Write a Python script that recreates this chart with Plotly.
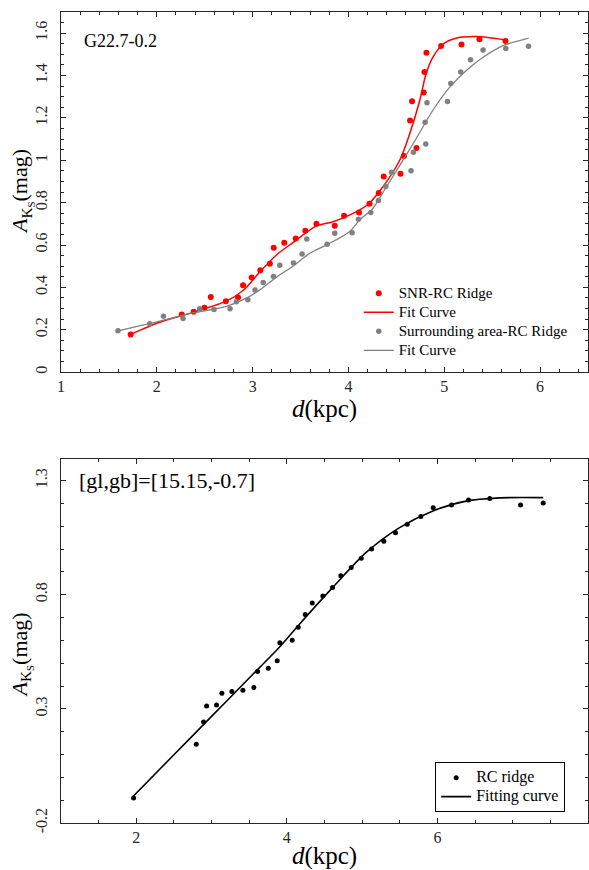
import plotly.graph_objects as go

# ---------------- Panel 1: G22.7-0.2 ----------------
snr_d = [1.727, 2.26, 2.385, 2.497, 2.563, 2.72, 2.848, 2.90, 2.99, 3.08, 3.18, 3.22,
         3.33, 3.45, 3.55, 3.666, 3.857, 3.954, 4.11, 4.22, 4.316, 4.368, 4.543, 4.58,
         4.643, 4.664, 4.71, 4.786, 4.793, 4.814, 4.967, 5.18, 5.367, 5.639]
snr_ak = [0.178, 0.272, 0.285, 0.304, 0.355, 0.335, 0.352, 0.410, 0.446, 0.481, 0.512, 0.587,
          0.611, 0.631, 0.667, 0.700, 0.691, 0.738, 0.754, 0.795, 0.846, 0.923, 0.936, 1.02,
          1.188, 1.279, 1.058, 1.32, 1.417, 1.508, 1.54, 1.547, 1.571, 1.563]

snr_fit_d = [1.727, 2.03, 2.378, 2.726, 2.90, 3.074, 3.248, 3.42, 3.666, 3.84, 4.01,
             4.2, 4.36, 4.535, 4.64, 4.744, 4.81, 4.88, 4.99, 5.13, 5.34, 5.64]
snr_fit_ak = [0.178, 0.235, 0.282, 0.335, 0.385, 0.472, 0.553, 0.611, 0.690, 0.71, 0.741,
              0.79, 0.875, 1.0, 1.126, 1.282, 1.408, 1.486, 1.549, 1.577, 1.584, 1.568]

sur_d = [1.595, 1.926, 2.069, 2.274, 2.448, 2.597, 2.764, 2.83, 2.95, 3.025, 3.11, 3.217,
         3.283, 3.426, 3.516, 3.565, 3.777, 3.857, 4.038, 4.104, 4.233, 4.313, 4.39, 4.45,
         4.653, 4.678, 4.80, 4.807, 4.82, 5.033, 5.068, 5.172, 5.274, 5.405, 5.642, 5.879]
sur_ak = [0.195, 0.228, 0.264, 0.253, 0.299, 0.296, 0.299, 0.332, 0.341, 0.388, 0.423, 0.451,
          0.504, 0.515, 0.558, 0.628, 0.603, 0.656, 0.658, 0.722, 0.754, 0.81, 0.876, 0.944,
          0.95, 1.038, 1.179, 1.077, 1.271, 1.278, 1.362, 1.417, 1.475, 1.521, 1.528, 1.538]

sur_fit_d = [1.595, 2.03, 2.378, 2.726, 2.935, 3.074, 3.248, 3.42, 3.597, 3.77, 4.01,
             4.12, 4.25, 4.397, 4.675, 4.88, 5.057, 5.23, 5.405, 5.614, 5.88]
sur_fit_ak = [0.195, 0.241, 0.279, 0.31, 0.349, 0.388, 0.448, 0.5, 0.561, 0.6, 0.663,
              0.72, 0.77, 0.875, 1.078, 1.235, 1.345, 1.424, 1.486, 1.541, 1.577]

# ---------------- Panel 2: [gl,gb]=[15.15,-0.7] ----------------
rc_d = [1.964, 2.797, 2.894, 2.934, 3.066, 3.137, 3.27, 3.416, 3.562, 3.611, 3.753, 3.872,
        3.907, 4.071, 4.151, 4.244, 4.337, 4.478, 4.607, 4.717, 4.855, 4.988, 5.125, 5.288,
        5.443, 5.599, 5.78, 5.944, 6.187, 6.413, 6.696, 7.104, 7.405]
rc_ak = [-0.090, 0.145, 0.242, 0.312, 0.317, 0.368, 0.376, 0.382, 0.393, 0.464, 0.478, 0.511,
         0.589, 0.600, 0.657, 0.713, 0.764, 0.794, 0.832, 0.883, 0.919, 0.96, 1.0, 1.034,
         1.071, 1.109, 1.142, 1.181, 1.193, 1.215, 1.221, 1.193, 1.202]

rc_fit_d = [1.95, 2.5, 3.0, 3.5, 3.9, 4.17, 4.61, 5.054, 5.497, 5.94, 6.38, 6.825, 7.405]
rc_fit_ak = [-0.086, 0.099, 0.267, 0.435, 0.57, 0.672, 0.832, 0.985, 1.094, 1.167, 1.21, 1.224, 1.225]

# tick labels
x1_ticks = [1, 2, 3, 4, 5, 6]
y1_ticks = [0, 0.2, 0.4, 0.6, 0.8, 1, 1.2, 1.4, 1.6]
y1_labels = ["0", "0.2", "0.4", "0.6", "0.8", "1", "1.2", "1.4", "1.6"]
x2_ticks = [2, 4, 6, 8]
y2_ticks = [-0.2, 0.3, 0.8, 1.3]
y2_labels = ["-0.2", "0.3", "0.8", "1.3"]

FONT = "Liberation Serif"
AX = "#262626"


def entry(label, size):
    # legend text drawn larger than the legend's row font, keeping rows compact
    return f"<span style='font-size:{size}px'>{label}</span>"


fig = go.Figure()

fig.add_trace(go.Scatter(x=snr_d, y=snr_ak, mode="markers", name=entry("SNR-RC Ridge", 15),
                         marker=dict(color="#ff0000", size=6), xaxis="x", yaxis="y", legend="legend"))
fig.add_trace(go.Scatter(x=snr_fit_d, y=snr_fit_ak, mode="lines", name=entry("Fit Curve", 15),
                         line=dict(color="#ff0000", width=1.5, shape="spline", smoothing=0.8),
                         xaxis="x", yaxis="y", legend="legend"))
fig.add_trace(go.Scatter(x=sur_d, y=sur_ak, mode="markers", name=entry("Surrounding area-RC Ridge", 15),
                         marker=dict(color="#808080", size=5.5), xaxis="x", yaxis="y", legend="legend"))
fig.add_trace(go.Scatter(x=sur_fit_d, y=sur_fit_ak, mode="lines", name=entry("Fit Curve", 15),
                         line=dict(color="#808080", width=1.3, shape="spline", smoothing=0.8),
                         xaxis="x", yaxis="y", legend="legend"))

fig.add_trace(go.Scatter(x=rc_d, y=rc_ak, mode="markers", name=entry("RC ridge", 16),
                         marker=dict(color="black", size=5), xaxis="x2", yaxis="y2", legend="legend2"))
fig.add_trace(go.Scatter(x=rc_fit_d, y=rc_fit_ak, mode="lines", name=entry("Fitting curve", 16),
                         line=dict(color="black", width=1.6, shape="spline", smoothing=0.8),
                         xaxis="x2", yaxis="y2", legend="legend2"))


def axis(**kw):
    base = dict(showline=True, linecolor=AX, linewidth=1, mirror="ticks",
                ticks="inside", ticklen=5, tickwidth=1, tickcolor=AX,
                showgrid=False, zeroline=False,
                tickfont=dict(family=FONT, size=16, color=AX))
    base.update(kw)
    return base


def minor(d, t0):
    return dict(ticks="inside", ticklen=3, tickwidth=1, tickcolor=AX,
                tickmode="linear", dtick=d, tick0=t0, showgrid=False)


ytitle = "<i>A</i><sub>K<sub>S</sub></sub>(mag)"
xtitle = "<i>d</i>(kpc)"

fig.update_layout(
    width=589, height=870,
    margin=dict(l=61, r=1, t=12, b=47),
    paper_bgcolor="white", plot_bgcolor="white",
    font=dict(family=FONT, color="black"),
    showlegend=True,
    xaxis=axis(domain=[0, 1], anchor="y", range=[1, 6.5], tickmode="array", tickvals=x1_ticks,
               minor=minor(0.2, 1),
               title=dict(text=xtitle, font=dict(size=25, family=FONT), standoff=2)),
    yaxis=axis(domain=[0.556, 1], anchor="x", range=[0, 1.7], tickmode="array", tickvals=y1_ticks,
               ticktext=y1_labels, tickangle=-90, ticklabelstandoff=7,
               minor=minor(0.05, 0)),
    xaxis2=axis(domain=[0, 1], anchor="y2", range=[1, 8], tickmode="array", tickvals=x2_ticks,
                minor=minor(0.5, 1),
                title=dict(text=xtitle, font=dict(size=25, family=FONT), standoff=2)),
    yaxis2=axis(domain=[0, 0.449], anchor="x2", range=[-0.2, 1.395], tickmode="array", tickvals=y2_ticks,
                ticktext=y2_labels, tickangle=-90, ticklabelstandoff=7,
                minor=minor(0.1, -0.2)),
    legend=dict(x=0.565, y=0.671, xanchor="left", yanchor="top", bgcolor="rgba(0,0,0,0)",
                borderwidth=0, font=dict(family=FONT, size=11.5, color="black"),
                itemwidth=30, tracegroupgap=0),
    legend2=dict(x=0.71, y=0.075, xanchor="left", yanchor="top", bgcolor="white",
                 bordercolor="black", borderwidth=1,
                 font=dict(family=FONT, size=12, color="black"), itemwidth=30),
    annotations=[
        dict(text="G22.7-0.2", xref="x domain", yref="y domain", x=0.04, y=0.92,
             xanchor="left", yanchor="middle", showarrow=False,
             font=dict(family=FONT, size=18, color="black")),
        dict(text="[gl,gb]=[15.15,-0.7]", xref="x2 domain", yref="y2 domain", x=0.03, y=0.94,
             xanchor="left", yanchor="middle", showarrow=False,
             font=dict(family=FONT, size=22, color="black")),
        dict(text=ytitle, xref="paper", yref="y domain", x=-0.074, y=0.5,
             xanchor="center", yanchor="middle", textangle=-90, showarrow=False,
             font=dict(family=FONT, size=22, color="black")),
        dict(text=ytitle, xref="paper", yref="y2 domain", x=-0.074, y=0.46,
             xanchor="center", yanchor="middle", textangle=-90, showarrow=False,
             font=dict(family=FONT, size=22, color="black")),
    ],
)

fig.write_html("out.html")
